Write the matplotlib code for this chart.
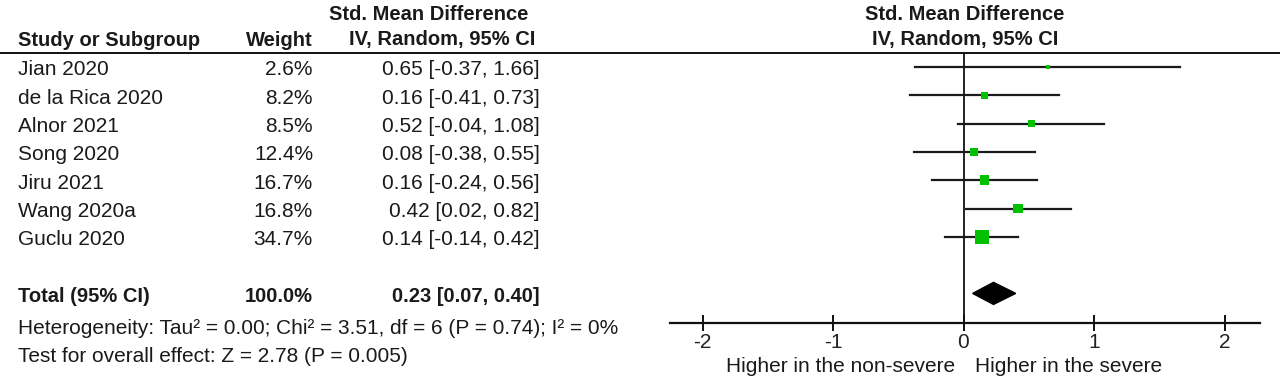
import matplotlib
matplotlib.use("Agg")
import matplotlib.pyplot as plt
import numpy as np
from matplotlib.lines import Line2D
from matplotlib.patches import Polygon
from matplotlib.transforms import blended_transform_factory

plt.rcParams.update({"font.family": ["Liberation Sans", "DejaVu Sans"]})

studies = ["Jian 2020", "de la Rica 2020", "Alnor 2021", "Song 2020",
           "Jiru 2021", "Wang 2020a", "Guclu 2020"]
weights = [2.6, 8.2, 8.5, 12.4, 16.7, 16.8, 34.7]
smd = [0.65, 0.16, 0.52, 0.08, 0.16, 0.42, 0.14]
ci_lo = [-0.37, -0.41, -0.04, -0.38, -0.24, 0.02, -0.14]
ci_hi = [1.66, 0.73, 1.08, 0.55, 0.56, 0.82, 0.42]
total_weight = 100.0
total = (0.23, 0.07, 0.40)
ticks = [-2, -1, 0, 1, 2]

W, H = 1280, 380
fig = plt.figure(figsize=(12.8, 3.8), dpi=100)

# forest panel, pixel layout
x0_px, unit_px = 963.5, 130.5
ax_l, ax_r = 670, 1260
row0, row_h = 67, 28.3
top_px, bot_px = 53, 323
ax = fig.add_axes([ax_l / W, 1 - bot_px / H, (ax_r - ax_l) / W, (bot_px - top_px) / H])
ax.set_xlim((ax_l - x0_px) / unit_px, (ax_r - x0_px) / unit_px)
ax.set_ylim((bot_px - row0) / row_h, (top_px - row0) / row_h)
ax.patch.set_alpha(0)
for s in ["top", "left", "right"]:
    ax.spines[s].set_visible(False)
ax.spines["bottom"].set_linewidth(1.6)
ax.spines["bottom"].set_color("#111")
ax.set_yticks([])
ax.set_xticks(ticks)
ax.set_xticklabels([str(t) for t in ticks])
ax.tick_params(axis="x", direction="inout", length=11, width=1.4, color="#111",
               labelsize=15, pad=2, labelcolor="#222")
ax.axvline(0, color="#222", lw=1.4, zorder=1)

rows = np.arange(len(studies))
for i in rows:
    ax.plot([ci_lo[i], ci_hi[i]], [i, i], color="#1a1a1a", lw=1.6, zorder=2)
side_px = 14 * np.sqrt(np.array(weights) / max(weights))
ax.scatter(smd, rows, marker="s", s=(side_px * 0.72) ** 2, color="#00c000",
           edgecolors="none", zorder=3)

tr = len(studies) + 1
h = 0.39
ax.add_patch(Polygon([(total[1], tr), (total[0], tr - h), (total[2], tr), (total[0], tr + h)],
                     closed=True, color="black", zorder=3))

# header line across the figure
fig.add_artist(Line2D([0, 1], [1 - top_px / H] * 2, color="#111", lw=1.4))

fs = 15
txt = "#1a1a1a"
bold_fam = ["Liberation Sans Narrow", "Liberation Sans", "DejaVu Sans"]
bfs = 14.5
bt = blended_transform_factory(fig.transFigure, ax.transData)
px = lambda x: x / W
dy = 0.1  # table text sits slightly below the CI lines

fig.text(px(429), 1 - 14 / H, "Std. Mean Difference", ha="center", va="center",
         fontsize=bfs, fontweight="bold", family=bold_fam, color=txt)
fig.text(px(442), 1 - 40 / H, "IV, Random, 95% CI", ha="center", va="center",
         fontsize=bfs, fontweight="bold", family=bold_fam, color=txt)
fig.text(px(965), 1 - 14 / H, "Std. Mean Difference", ha="center", va="center",
         fontsize=bfs, fontweight="bold", family=bold_fam, color=txt)
fig.text(px(965), 1 - 40 / H, "IV, Random, 95% CI", ha="center", va="center",
         fontsize=bfs, fontweight="bold", family=bold_fam, color=txt)
fig.text(px(18), 1 - 40 / H, "Study or Subgroup", ha="left", va="center",
         fontsize=bfs, fontweight="bold", family=bold_fam, color=txt)
fig.text(px(313), 1 - 40 / H, "Weight", ha="right", va="center",
         fontsize=bfs, fontweight="bold", family=bold_fam, color=txt)

for i, name in enumerate(studies):
    ax.text(px(18), i + dy, name, transform=bt, ha="left", va="center", fontsize=fs, color=txt)
    ax.text(px(313), i + dy, f"{weights[i]:.1f}%", transform=bt, ha="right", va="center",
            fontsize=fs, color=txt)
    ax.text(px(540), i + dy, f"{smd[i]:.2f} [{ci_lo[i]:.2f}, {ci_hi[i]:.2f}]", transform=bt,
            ha="right", va="center", fontsize=fs, color=txt)

ax.text(px(18), tr + dy, "Total (95% CI)", transform=bt, ha="left", va="center",
        fontsize=bfs, fontweight="bold", family=bold_fam, color=txt)
ax.text(px(313), tr + dy, f"{total_weight:.1f}%", transform=bt, ha="right", va="center",
        fontsize=bfs, fontweight="bold", family=bold_fam, color=txt)
ax.text(px(540), tr + dy, f"{total[0]:.2f} [{total[1]:.2f}, {total[2]:.2f}]", transform=bt,
        ha="right", va="center", fontsize=bfs, fontweight="bold", family=bold_fam, color=txt)

fig.text(px(18), 1 - 329 / H,
         "Heterogeneity: Tau\u00b2 = 0.00; Chi\u00b2 = 3.51, df = 6 (P = 0.74); I\u00b2 = 0%",
         ha="left", va="center", fontsize=fs, color=txt)
fig.text(px(18), 1 - 356 / H, "Test for overall effect: Z = 2.78 (P = 0.005)",
         ha="left", va="center", fontsize=fs, color=txt)

fig.text(px(955), 1 - 367 / H, "Higher in the non-severe", ha="right", va="center",
         fontsize=fs, color=txt)
fig.text(px(975), 1 - 367 / H, "Higher in the severe", ha="left", va="center",
         fontsize=fs, color=txt)

fig.savefig("out.png", dpi=100, facecolor="white")
